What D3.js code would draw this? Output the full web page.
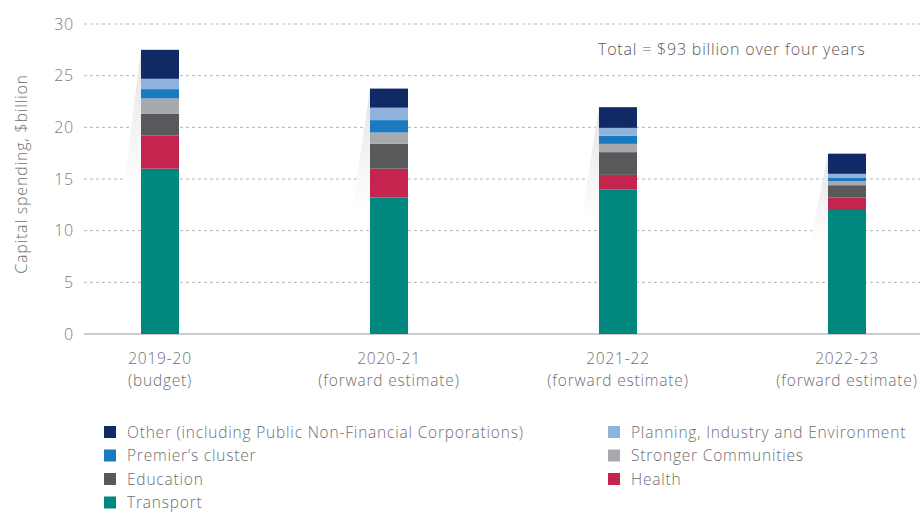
<!DOCTYPE html>
<html>
<head>
<meta charset="utf-8">
<script src="https://cdn.jsdelivr.net/npm/d3@7"></script>
<style>
  body { margin: 0; background: #fff; }
  svg { display: block; font-family: "Open Sans", Lato, sans-serif; letter-spacing: 0.8px; }
</style>
</head>
<body>
<div id="chart"></div>
<script>
const years = ['2019-20', '2020-21', '2021-22', '2022-23'];
const yearNotes = ['(budget)', '(forward estimate)', '(forward estimate)', '(forward estimate)'];

// stacking order, bottom to top
const clusters = ['Transport', 'Health', 'Education', 'Stronger Communities', "Premier’s cluster", 'Planning, Industry and Environment', 'Other (including Public Non-Financial Corporations)'];
const clusterColors = ['#00877f', '#c4254f', '#58595b', '#a7a9ac', '#1a7abf', '#8fb3dc', '#102a66'];

const transport = [16.0, 13.2, 14.0, 12.0];
const health = [3.2, 2.8, 1.4, 1.2];
const education = [2.1, 2.4, 2.2, 1.2];
const stronger = [1.5, 1.1, 0.8, 0.4];
const premier = [0.9, 1.2, 0.8, 0.3];
const planning = [1.0, 1.2, 0.75, 0.4];
const other = [2.8, 1.85, 2.0, 1.95];

const yTicks = [0, 5, 10, 15, 20, 25, 30];

// legend layout: left column then right column
const legendLeft = ['Other (including Public Non-Financial Corporations)', "Premier’s cluster", 'Education', 'Transport'];
const legendRight = ['Planning, Industry and Environment', 'Stronger Communities', 'Health'];

const series = [transport, health, education, stronger, premier, planning, other];
const rows = years.map((y, i) => {
  const r = { year: y };
  clusters.forEach((c, j) => r[c] = series[j][i]);
  return r;
});

const width = 924, height = 514;
const svg = d3.select('#chart').append('svg')
  .attr('width', width)
  .attr('height', height);

const x = d3.scalePoint().domain(years).range([160, 847]);
const y = d3.scaleLinear().domain([0, 30]).range([334, 24]);
const color = d3.scaleOrdinal().domain(clusters).range(clusterColors);
const barW = 38;

// gridlines
svg.append('g')
  .selectAll('line')
  .data(yTicks.filter(d => d > 0))
  .enter().append('line')
  .attr('x1', 84).attr('x2', 920)
  .attr('y1', d => y(d)).attr('y2', d => y(d))
  .attr('stroke', '#b5b5b5')
  .attr('stroke-width', 1)
  .attr('stroke-dasharray', '3,3');

svg.append('line')
  .attr('x1', 84).attr('x2', 920)
  .attr('y1', y(0)).attr('y2', y(0))
  .attr('stroke', '#9a9a9a')
  .attr('stroke-width', 1.2);

// y tick labels
svg.append('g')
  .selectAll('text')
  .data(yTicks)
  .enter().append('text')
  .attr('x', 74)
  .attr('y', d => y(d))
  .attr('dy', '0.36em')
  .attr('text-anchor', 'end')
  .attr('fill', '#7a7b7e')
  .attr('font-size', 16)
  .attr('font-weight', 300)
  .text(d => d);

svg.append('text')
  .attr('transform', `translate(27,${y(15) - 5}) rotate(-90)`)
  .attr('text-anchor', 'middle')
  .attr('fill', '#6d6e71')
  .attr('font-size', 16)
  .attr('font-weight', 300)
  .text('Capital spending, $billion');

// soft shadows to the left of each bar
const defs = svg.append('defs');
const grad = defs.append('linearGradient')
  .attr('id', 'shade')
  .attr('x1', 0).attr('y1', 0).attr('x2', 0).attr('y2', 1);
grad.append('stop').attr('offset', '0%').attr('stop-color', '#e4e4e4');
grad.append('stop').attr('offset', '100%').attr('stop-color', '#ffffff');

const totals = rows.map(r => d3.sum(clusters, c => r[c]));
svg.append('g')
  .selectAll('path')
  .data(years)
  .enter().append('path')
  .attr('fill', 'url(#shade)')
  .attr('d', (d, i) => {
    const left = x(d) - barW / 2;
    const top = y(totals[i]);
    const bottom = y(totals[i] / 2);
    return `M${left},${top} L${left - 18},${bottom} L${left},${bottom} Z`;
  });

// stacked bars
const stack = d3.stack().keys(clusters);
svg.append('g')
  .selectAll('g')
  .data(stack(rows))
  .enter().append('g')
  .attr('fill', d => color(d.key))
  .selectAll('rect')
  .data(d => d)
  .enter().append('rect')
  .attr('x', d => x(d.data.year) - barW / 2)
  .attr('width', barW)
  .attr('y', d => y(d[1]))
  .attr('height', d => y(d[0]) - y(d[1]));

// x labels
const xl = svg.append('g')
  .selectAll('text')
  .data(years)
  .enter().append('text')
  .attr('x', d => x(d))
  .attr('y', 364)
  .attr('text-anchor', 'middle')
  .attr('fill', '#6d6e71')
  .attr('font-size', 15.5)
  .attr('font-weight', 300);
xl.append('tspan').attr('x', d => x(d)).text(d => d);
xl.append('tspan').attr('x', d => x(d)).attr('dy', 22).text((d, i) => yearNotes[i]);

// annotation
svg.append('text')
  .attr('x', 598)
  .attr('y', 55)
  .attr('fill', '#58595b')
  .attr('font-size', 16)
  .attr('font-weight', 300)
  .text('Total = $93 billion over four years');

// legend
function legendCol(items, x0) {
  const g = svg.append('g')
    .selectAll('g')
    .data(items)
    .enter().append('g')
    .attr('transform', (d, i) => `translate(${x0},${432 + i * 23.5})`);
  g.append('rect')
    .attr('x', 0).attr('y', -6)
    .attr('width', 12).attr('height', 12)
    .attr('fill', d => color(d));
  g.append('text')
    .attr('x', 23)
    .attr('dy', '0.36em')
    .attr('fill', '#6d6e71')
    .attr('font-size', 15.5)
    .attr('font-weight', 300)
    .text(d => d);
}
legendCol(legendLeft, 104);
legendCol(legendRight, 608);
</script>
</body>
</html>
